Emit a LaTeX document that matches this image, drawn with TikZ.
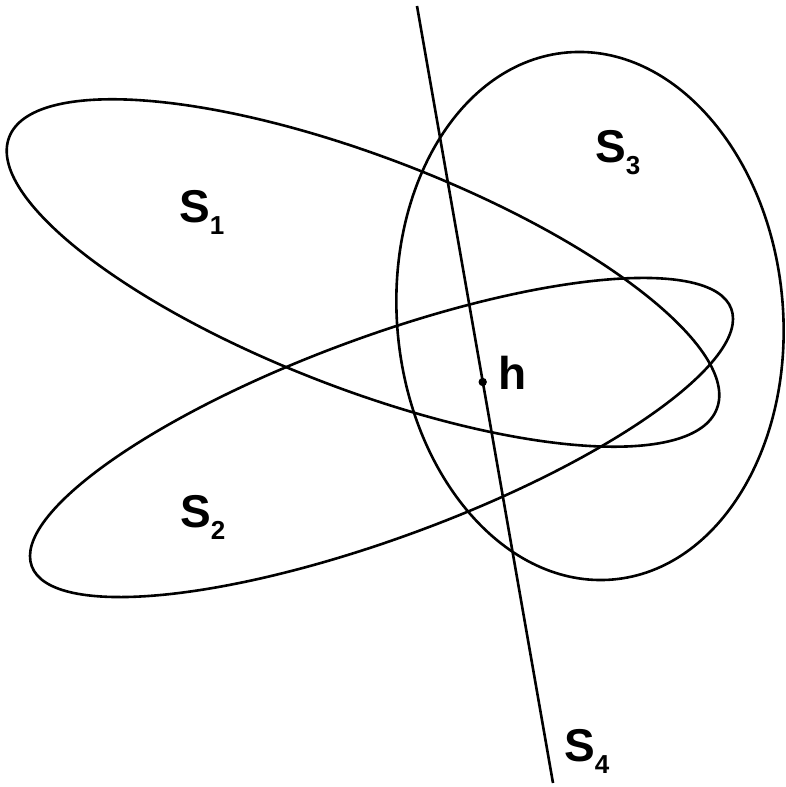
\documentclass[tikz,border=0pt]{standalone}
\usepackage{fontspec}
\setmainfont{Liberation Sans}
\newcommand\setlab[1]{\textbf{S}\raisebox{-12pt}{\fontsize{26}{26}\selectfont\bfseries #1}}
\begin{document}
\begin{tikzpicture}[x=1pt,y=1pt,
  curve/.style={line width=2.6pt},
  lab/.style={inner sep=0pt,anchor=base west,font=\fontsize{46}{50}\selectfont\bfseries}]
\useasboundingbox (0,0) rectangle (785,787);
% sets
\draw[curve,rotate around={-21:(363,514)}] (363,514) ellipse [x radius=379pt, y radius=116pt];
\draw[curve,rotate around={20.2:(381.5,349.5)}] (381.5,349.5) ellipse [x radius=372.7pt, y radius=100.5pt];
\draw[curve,rotate around={5:(590,471)}] (590,471) ellipse [x radius=193pt, y radius=264.5pt];
% line S4
\coordinate (t4) at (417,781);
\coordinate (b4) at (553,4);
\draw[curve] (t4) -- (b4);
\coordinate (h) at (482.7,405);
\fill (h) circle (4.2pt);
% labels
\node[lab] (l1) at (179,564) {\setlab{1}};
\node[lab] (l2) at (180,259) {\setlab{2}};
\node[lab] (l3) at (595,624) {\setlab{3}};
\node[lab] (l4) at (564,25) {\setlab{4}};
\node[lab] (lh) at (498,397) {h};
\end{tikzpicture}
\end{document}
